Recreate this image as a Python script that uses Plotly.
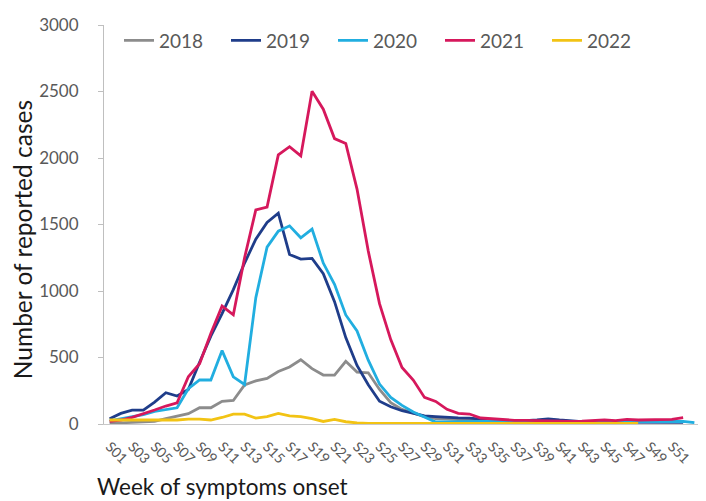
import plotly.graph_objects as go

weeks = [f"S{i:02d}" for i in range(1, 54)]
tick_labels = [f"S{i:02d}" for i in range(1, 52, 2)]

cases_2018 = [5, 8, 12, 15, 20, 40, 60, 78, 122, 122, 171, 177, 294, 324, 343, 395, 429, 483,
              416, 368, 368, 471, 390, 385, 260, 160, 110, 80, 55, 40, 35, 30, 28, 25, 22, 20,
              20, 20, 20, 20, 18, 18, 18, 18, 18, 18, 18, 18, 18, 18, 18, 18]
cases_2019 = [40, 80, 105, 105, 165, 235, 210, 260, 465, 660, 830, 1010, 1210, 1390, 1515, 1585,
              1275, 1240, 1245, 1130, 920, 650, 440, 295, 171, 130, 100, 80, 61, 55, 49, 46, 44,
              35, 30, 28, 25, 25, 30, 38, 30, 22, 18, 15, 15, 15, 15, 15, 12, 12, 12, 12]
cases_2020 = [24, 40, 55, 70, 95, 110, 122, 265, 331, 331, 552, 355, 297, 950, 1330, 1450, 1490,
              1400, 1465, 1210, 1050, 820, 700, 480, 300, 200, 140, 90, 50, 15, 15, 18, 20, 20,
              20, 18, 18, 18, 18, 18, 18, 18, 18, 18, 18, 18, 18, 20, 18, 15, 20, 20, 10]
cases_2021 = [20, 30, 50, 75, 105, 135, 160, 355, 453, 680, 887, 821, 1250, 1610, 1631, 2023, 2085,
              2016, 2502, 2367, 2146, 2109, 1766, 1300, 905, 635, 425, 330, 200, 170, 110, 80, 75,
              45, 40, 30, 28, 28, 25, 22, 20, 20, 22, 25, 30, 25, 35, 30, 30, 32, 35, 48]
cases_2022 = [30, 30, 30, 28, 27, 28, 30, 37, 37, 30, 49, 74, 74, 44, 56, 80, 61, 56, 41, 19, 34,
              17, 8, 5, 4, 4, 4, 4, 4, 4, 4, 4, 4, 4, 4, 4, 4, 4, 4, 4, 4, 4, 4, 4, 4, 4, 4, 4]

series = [
    ("2018", cases_2018, "#8c8c8c"),
    ("2019", cases_2019, "#1f3d8a"),
    ("2020", cases_2020, "#21aee0"),
    ("2021", cases_2021, "#d6185c"),
    ("2022", cases_2022, "#f2c314"),
]

FONT = "Lato"
# page body has an 8px margin: figure drawn from (8, 8)
PLOT_L, PLOT_T, PLOT_W, PLOT_H = 104, 16, 596, 408


def px(xabs):
    return (xabs - PLOT_L) / PLOT_W


def py(yabs):
    return (PLOT_T + PLOT_H - yabs) / PLOT_H


fig = go.Figure()
for name, vals, color in series:
    fig.add_trace(go.Scatter(
        x=weeks[:len(vals)], y=vals, name=name, mode="lines",
        line=dict(color=color, width=2.8),
    ))

fig.update_layout(
    width=698, height=493,
    margin=dict(l=PLOT_L - 8, r=698 - (PLOT_L - 8) - PLOT_W, t=PLOT_T - 8,
                b=493 - (PLOT_T - 8) - PLOT_H),
    paper_bgcolor="white", plot_bgcolor="white",
    font=dict(family=FONT, color="#595959"),
    showlegend=True,
    legend=dict(orientation="h", x=px(119), y=py(12.5), xanchor="left", yanchor="top",
                font=dict(size=19, color="#595959", family=FONT),
                entrywidth=62, entrywidthmode="pixels",
                bgcolor="rgba(0,0,0,0)"),
    xaxis=dict(type="category", categoryorder="array", categoryarray=weeks,
               range=[-0.5, 52.5], tickmode="array", tickvals=tick_labels,
               ticktext=tick_labels, tickangle=45, tickfont=dict(size=14, color="#595959"),
               showline=True, linecolor="#c8c8c8", linewidth=1, ticks="",
               showgrid=False, zeroline=False, ticklabelstandoff=8),
    yaxis=dict(range=[0, 3000], tickmode="linear", tick0=0, dtick=500,
               showline=True, linecolor="#bfbfbf", linewidth=1, ticks="outside",
               ticklen=5, tickcolor="#bfbfbf", tickfont=dict(size=17, color="#595959"),
               showgrid=False, zeroline=False, ticklabelstandoff=16,
               ticklabeloverflow="allow"),
    annotations=[
        dict(text="Number of reported cases", xref="paper", yref="paper",
             x=px(22), y=py(236), xanchor="center", yanchor="middle",
             textangle=-90, showarrow=False, font=dict(size=24.5, color="#1a1a1a", family=FONT)),
        dict(text="Week of symptoms onset", xref="paper", yref="paper",
             x=px(95), y=py(488), xanchor="left", yanchor="middle",
             showarrow=False, font=dict(size=22.5, color="#1a1a1a", family=FONT)),
    ],
)

fig.write_html("out.html")
